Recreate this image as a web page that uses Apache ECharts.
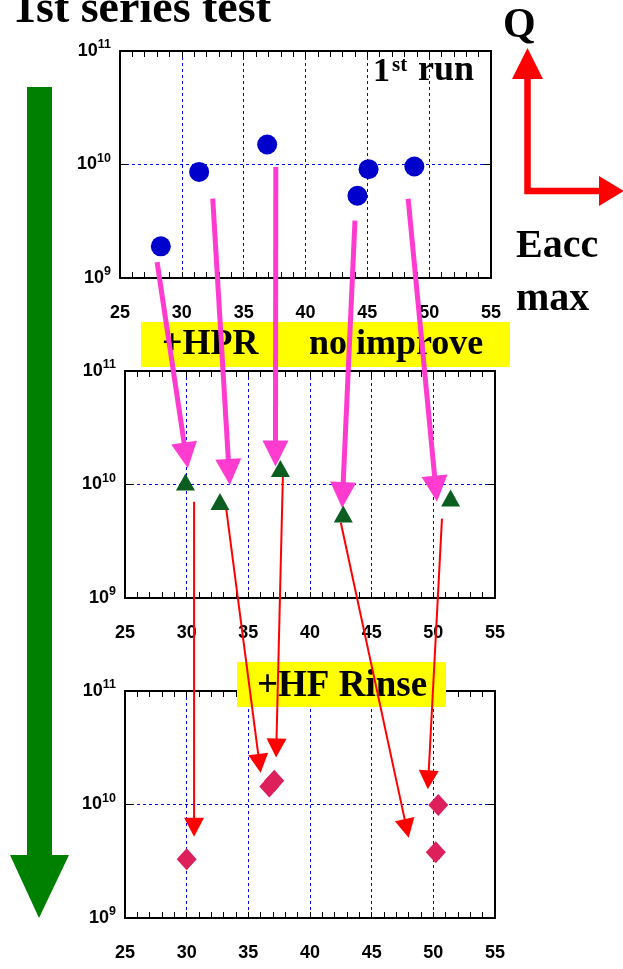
<!DOCTYPE html>
<html>
<head>
<meta charset="utf-8">
<script src="https://cdn.jsdelivr.net/npm/echarts@6/dist/echarts.min.js"></script>
<style>
html,body{margin:0;padding:0;background:#fff;}
#c{width:623px;height:969px;}
</style>
</head>
<body>
<div id="c"></div>
<script>
// ---- data ----
const xTickMin = 25, xTickMax = 55, xTickStep = 5;
const qMin = 1e9, qMax = 1e11;

// 1st run (blue circles)
const run1X = [28.3, 31.4, 36.9, 44.2, 45.1, 48.8];
const run1Q = [1.9e9, 8.6e9, 1.5e10, 5.3e9, 9.1e9, 9.6e9];
// after HPR (green triangles)
const hprX = [29.9, 32.7, 37.6, 42.7, 51.4];
const hprQ = [1.05e10, 7.1e9, 1.38e10, 5.5e9, 7.6e9];
// after HF rinse (diamonds)
const hfX = [30.0, 36.7, 37.1, 50.4, 50.2];
const hfQ = [3.3e9, 1.44e10, 1.62e10, 9.9e9, 3.8e9];

// arrows (data coords): magenta from panel 1 to panel 2
const hprArrowFromX = [28.0, 32.5, 37.6, 44.0, 48.3];
const hprArrowFromQ = [1.38e9, 5.0e9, 9.5e9, 3.2e9, 5.0e9];
const hprArrowToX = [30.1, 33.5, 37.2, 42.6, 50.3];
const hprArrowToQ = [1.39e10, 9.9e9, 1.44e10, 6.2e9, 7.05e9];
// red from panel 2 to panel 3
const hfArrowFromX = [30.6, 33.2, 37.8, 42.5, 50.7];
const hfArrowFromQ = [7.05e9, 6.2e9, 1.17e10, 4.6e9, 5.0e9];
const hfArrowToX = [30.6, 36.0, 37.25, 48.0, 49.55];
const hfArrowToQ = [5.2e9, 1.9e10, 2.6e10, 5.1e9, 1.36e10];

// ---- chart ----
const SANS = '"Liberation Sans", Arial, Helvetica, sans-serif';
const SERIF = '"Liberation Serif", "Times New Roman", serif';
const zip = (a, b) => a.map((v, i) => [v, b[i]]);

const grids = [
  {left: 120, top: 51, width: 371, height: 227},
  {left: 125, top: 371, width: 370, height: 227},
  {left: 125, top: 691, width: 370, height: 227}
];

const gridLine = {show: true, lineStyle: {color: '#0000ff', type: [3, 3], width: 1}};
const frameLine = {show: true, onZero: false, lineStyle: {color: '#000', width: 2}};

const xAxes = [], yAxes = [];
grids.forEach((g, i) => {
  xAxes.push({
    gridIndex: i, type: 'value', min: xTickMin, max: xTickMax, interval: xTickStep, position: 'bottom',
    axisLine: frameLine,
    axisTick: {show: true, inside: true, length: 6, lineStyle: {color: '#000', width: 1}},
    minorTick: {show: true, splitNumber: 5, length: 6, lineStyle: {color: '#000', width: 1}},
    axisLabel: {margin: 26, fontSize: 18, fontWeight: 'bold', color: '#000', fontFamily: SANS},
    splitLine: gridLine
  });
  xAxes.push({
    gridIndex: i, type: 'value', min: xTickMin, max: xTickMax, interval: xTickStep, position: 'top',
    axisLine: frameLine,
    axisTick: {show: true, inside: true, length: 6, lineStyle: {color: '#000', width: 1}},
    minorTick: {show: true, splitNumber: 5, length: 6, lineStyle: {color: '#000', width: 1}},
    axisLabel: {show: false},
    splitLine: {show: false}
  });
  yAxes.push({
    gridIndex: i, type: 'log', logBase: 10, min: qMin, max: qMax, position: 'left',
    axisLine: frameLine,
    axisTick: {show: true, inside: true, length: 8, lineStyle: {color: '#000', width: 1}},
    axisLabel: {
      margin: 9, color: '#000',
      formatter: v => '{b|10}{s|' + Math.round(Math.log10(v)) + '}',
      rich: {
        b: {fontSize: 18, fontWeight: 'bold', fontFamily: SANS, lineHeight: 25, color: '#000'},
        s: {fontSize: 12.5, fontWeight: 'bold', fontFamily: SANS, verticalAlign: 'top', color: '#000'}
      }
    },
    splitLine: gridLine
  });
  yAxes.push({
    gridIndex: i, type: 'log', logBase: 10, min: qMin, max: qMax, position: 'right',
    axisLine: frameLine,
    axisTick: {show: true, inside: true, length: 8, lineStyle: {color: '#000', width: 1}},
    axisLabel: {show: false},
    splitLine: {show: false}
  });
});

const chart = echarts.init(document.getElementById('c'), null, {renderer: 'canvas'});
chart.setOption({
  animation: false,
  backgroundColor: '#fff',
  grid: grids,
  xAxis: xAxes,
  yAxis: yAxes,
  series: [
    {type: 'scatter', xAxisIndex: 0, yAxisIndex: 0, data: zip(run1X, run1Q), symbol: 'circle', symbolSize: 20,
     itemStyle: {color: '#0000cc', opacity: 1}, z: 10},
    {type: 'scatter', xAxisIndex: 2, yAxisIndex: 2, data: zip(hprX, hprQ), symbol: 'triangle', symbolSize: [19, 17],
     itemStyle: {color: '#0b5e1f', opacity: 1}, z: 10},
    {type: 'scatter', xAxisIndex: 4, yAxisIndex: 4, data: zip(hfX, hfQ), symbol: 'diamond', symbolSize: [20, 22],
     itemStyle: {color: '#dd1f5c', opacity: 1}, z: 10}
  ]
});

// ---- annotations ----
function arrow(p0, p1, color, lw, headW, headL, z) {
  const dx = p1[0] - p0[0], dy = p1[1] - p0[1];
  const len = Math.hypot(dx, dy);
  const ux = dx / len, uy = dy / len;
  const bx = p1[0] - ux * headL, by = p1[1] - uy * headL;
  const px = -uy * headW / 2, py = ux * headW / 2;
  return [
    {type: 'line', z: z, shape: {x1: p0[0], y1: p0[1], x2: bx + ux, y2: by + uy}, style: {stroke: color, lineWidth: lw}},
    {type: 'polygon', z: z, shape: {points: [[p1[0], p1[1]], [bx + px, by + py], [bx - px, by - py]]}, style: {fill: color}}
  ];
}
function text(str, x, y, size, extra) {
  return Object.assign({type: 'text', x: x, y: y, z: 8,
    style: {text: str, font: 'bold ' + size + 'px ' + SERIF, fill: '#000', align: 'left', verticalAlign: 'middle'}}, extra || {});
}

const g = [];
// yellow boxes
g.push({type: 'rect', z: 4, shape: {x: 141, y: 322, width: 369, height: 45}, style: {fill: '#ffff00'}});
g.push({type: 'rect', z: 4, shape: {x: 237, y: 662, width: 209, height: 45}, style: {fill: '#ffff00'}});
g.push(text('+HPR', 162, 345, 36, {z: 5}));
g.push(text('no improve', 309, 345, 36, {z: 5}));
g.push(text('+HF Rinse', 257, 686, 37, {z: 5}));

// title and labels
g.push(text('1st series test', 13, 10, 46));
g.push(text('1', 373, 72, 34));
g.push(text('st', 392, 66, 21));
g.push(text('run', 418, 71, 36));
g.push(text('Q', 503, 26, 42));
g.push(text('Eacc', 516, 247, 40));
g.push(text('max', 516, 300, 40));

// big green arrow
g.push({type: 'polygon', z: 3, shape: {points: [[27, 87], [52, 87], [52, 855], [69, 855], [39, 918], [10, 855], [27, 855]]},
  style: {fill: '#008000'}});

// red Q / Eacc axes
g.push({type: 'polyline', z: 3, shape: {points: [[527.5, 76], [527.5, 191], [601, 191]]},
  style: {stroke: '#ff0000', lineWidth: 6.5, fill: null, lineJoin: 'miter'}});
g.push({type: 'polygon', z: 3, shape: {points: [[527.5, 48], [512, 79], [543, 79]]}, style: {fill: '#ff0000'}});
g.push({type: 'polygon', z: 3, shape: {points: [[624, 191], [599, 176], [599, 206]]}, style: {fill: '#ff0000'}});

// data arrows
hprArrowFromX.forEach((x, i) => {
  const p0 = chart.convertToPixel({xAxisIndex: 0, yAxisIndex: 0}, [x, hprArrowFromQ[i]]);
  const p1 = chart.convertToPixel({xAxisIndex: 2, yAxisIndex: 2}, [hprArrowToX[i], hprArrowToQ[i]]);
  arrow(p0, p1, '#ff3ccf', 5, 26, 26, 6).forEach(e => g.push(e));
});
hfArrowFromX.forEach((x, i) => {
  const p0 = chart.convertToPixel({xAxisIndex: 2, yAxisIndex: 2}, [x, hfArrowFromQ[i]]);
  const p1 = chart.convertToPixel({xAxisIndex: 4, yAxisIndex: 4}, [hfArrowToX[i], hfArrowToQ[i]]);
  arrow(p0, p1, '#ff0000', 2, 20, 19, 6).forEach(e => g.push(e));
});

chart.setOption({graphic: {elements: g}});
</script>
</body>
</html>
